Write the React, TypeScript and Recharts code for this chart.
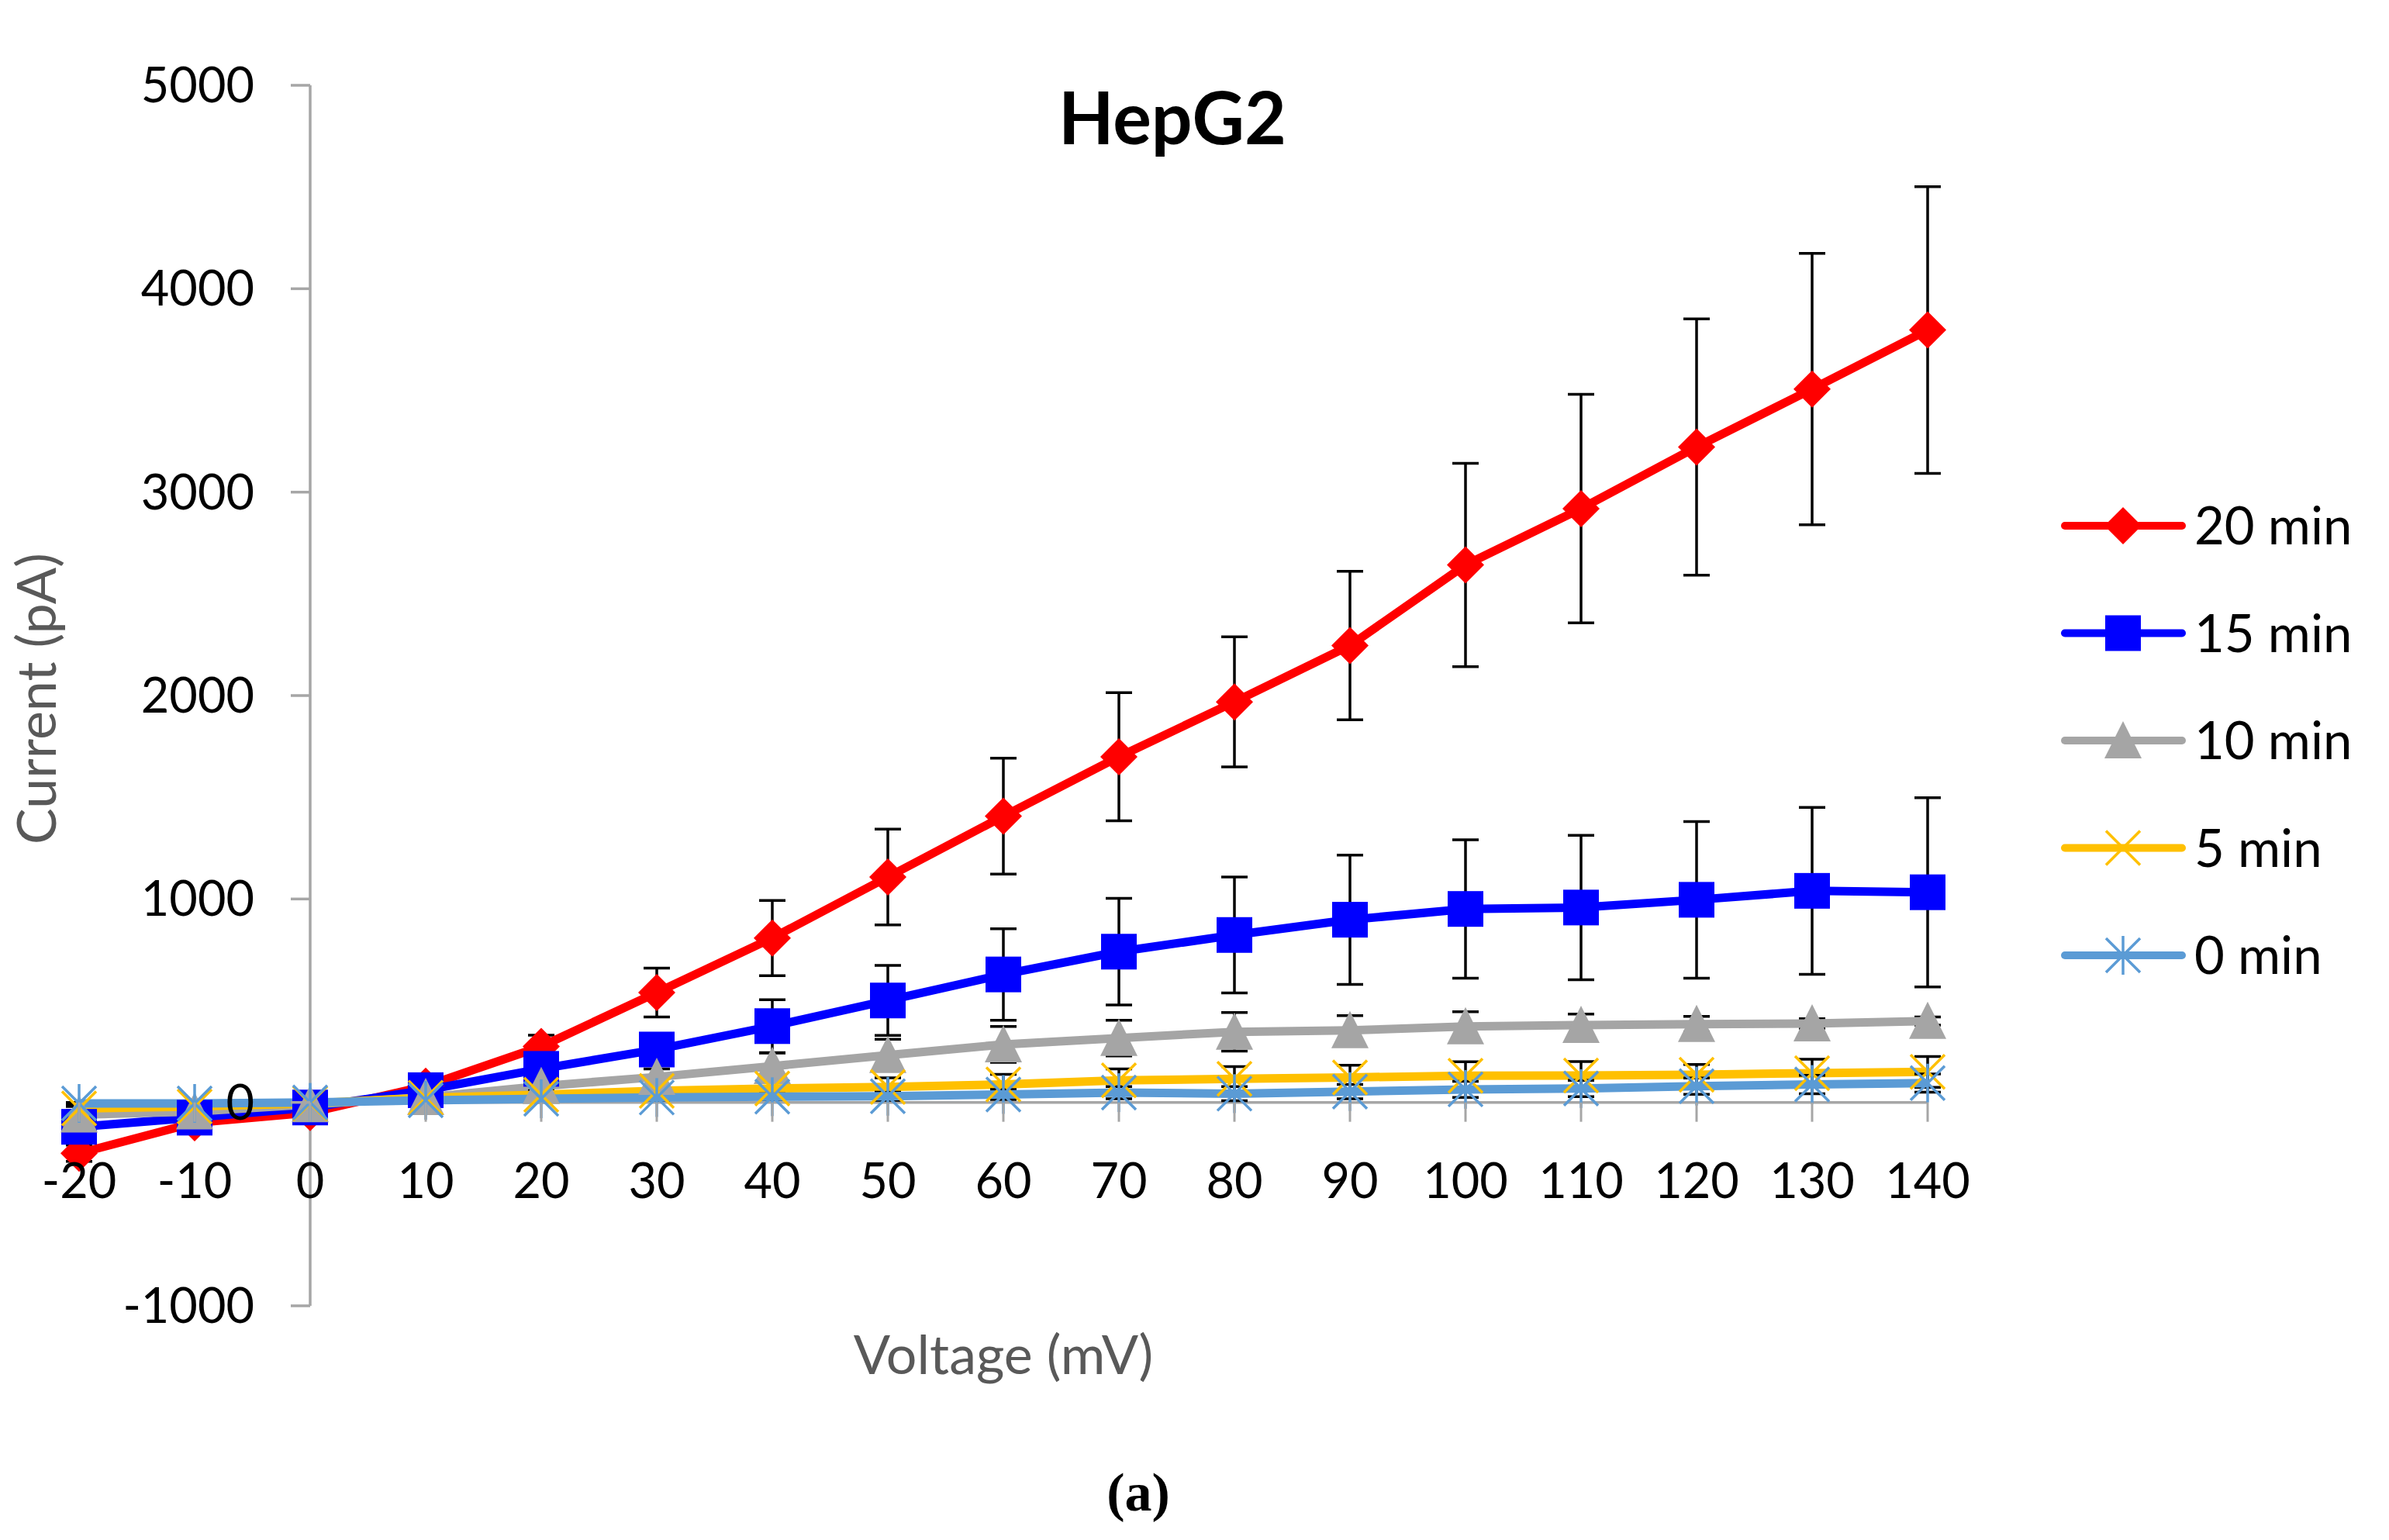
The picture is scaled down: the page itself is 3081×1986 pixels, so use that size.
import React from 'react';
import { LineChart, Line, XAxis, YAxis, ErrorBar, ReferenceLine, Legend } from 'recharts';

// I-V curves, HepG2, current (pA) vs voltage (mV)
const voltages = [-20, -10, 0, 10, 20, 30, 40, 50, 60, 70, 80, 90, 100, 110, 120, 130, 140];
const currentTicks = [-1000, 0, 1000, 2000, 3000, 4000, 5000];

const current20 = [-250, -100, -50, 80, 275, 540, 808, 1108, 1407, 1699, 1969, 2246, 2642, 2919, 3222, 3507, 3797];
const error20 = [40, 20, 10, 15, 55, 120, 185, 235, 285, 315, 320, 365, 500, 562, 630, 667, 705];
const current15 = [-120, -75, -25, 60, 165, 260, 375, 501, 629, 741, 823, 898, 951, 958, 996, 1040, 1033];
const error15 = [30, 20, 10, 20, 40, 70, 130, 172, 225, 262, 285, 318, 340, 355, 385, 410, 465];
const current10 = [-60, -45, -10, 25, 80, 125, 178, 232, 285, 316, 347, 354, 373, 380, 385, 388, 400];
const error10 = [20, 15, 10, 10, 20, 40, 65, 78, 88, 88, 95, 73, 73, 54, 38, 23, 20];
const current5 = [-30, -20, -5, 23, 38, 57, 68, 76, 88, 108, 116, 123, 131, 132, 136, 144, 150];
const error5 = [10, 10, 5, 10, 20, 30, 40, 45, 50, 57, 60, 60, 69, 69, 50, 68, 76];
const current0 = [-5, -5, 0, 10, 18, 24, 28, 30, 39, 48, 43, 53, 64, 68, 80, 88, 95];
const error0 = [5, 5, 5, 10, 10, 15, 15, 20, 25, 30, 35, 35, 40, 40, 40, 45, 45];

const series = [
  { key: 'c20', err: 'e20', name: '20 min', color: '#FF0000', marker: 'diamond' },
  { key: 'c15', err: 'e15', name: '15 min', color: '#0000FF', marker: 'square' },
  { key: 'c10', err: 'e10', name: '10 min', color: '#A5A5A5', marker: 'triangle' },
  { key: 'c5', err: 'e5', name: '5 min', color: '#FFC000', marker: 'x' },
  { key: 'c0', err: 'e0', name: '0 min', color: '#5B9BD5', marker: 'star' },
];

const data = voltages.map((v, i) => ({
  v,
  c20: current20[i], e20: error20[i],
  c15: current15[i], e15: error15[i],
  c10: current10[i], e10: error10[i],
  c5: current5[i], e5: error5[i],
  c0: current0[i], e0: error0[i],
}));

const W = 3081;
const H = 1986;
const PLOT = { left: 102, top: 110, right: 2486, bottom: 1684 };
const Y_MIN = -1000;
const Y_MAX = 5000;
const X_MIN = -20;
const X_MAX = 140;
const ZERO_Y = PLOT.top + ((Y_MAX - 0) / (Y_MAX - Y_MIN)) * (PLOT.bottom - PLOT.top);
const AXIS_X = PLOT.left + ((0 - X_MIN) / (X_MAX - X_MIN)) * (PLOT.right - PLOT.left);

const FONT = 'Lato, "Open Sans", sans-serif';
const AXIS_GRAY = '#A6A6A6';
const TITLE_GRAY = '#595959';
const TICK_SIZE = 63;

function Marker({ cx, cy, kind, color }: any) {
  if (cx == null || cy == null) return null;
  if (kind === 'diamond') {
    return <polygon points={`${cx},${cy - 24} ${cx + 24},${cy} ${cx},${cy + 24} ${cx - 24},${cy}`} fill={color} />;
  }
  if (kind === 'square') {
    return <rect x={cx - 23} y={cy - 23} width={46} height={46} fill={color} />;
  }
  if (kind === 'triangle') {
    return <polygon points={`${cx},${cy - 25} ${cx + 24},${cy + 23} ${cx - 24},${cy + 23}`} fill={color} />;
  }
  const lines = [
    <line key="a" x1={cx - 22} y1={cy - 22} x2={cx + 22} y2={cy + 22} />,
    <line key="b" x1={cx - 22} y1={cy + 22} x2={cx + 22} y2={cy - 22} />,
  ];
  if (kind === 'star') lines.push(<line key="c" x1={cx} y1={cy - 25} x2={cx} y2={cy + 25} />);
  return (
    <g stroke={color} strokeWidth={3.5} fill="none">
      {lines}
    </g>
  );
}

function XTick({ x, payload }: any) {
  return (
    <g>
      <line x1={x} y1={ZERO_Y} x2={x} y2={ZERO_Y + 25} stroke={AXIS_GRAY} strokeWidth={3} />
      <text x={x} y={ZERO_Y + 123} textAnchor="middle" fontFamily={FONT} fontSize={TICK_SIZE} fill="#000">
        {payload.value}
      </text>
    </g>
  );
}

function YTick({ y, payload }: any) {
  return (
    <g>
      <line x1={AXIS_X - 25} y1={y} x2={AXIS_X} y2={y} stroke={AXIS_GRAY} strokeWidth={3.5} />
      <text x={AXIS_X - 72} y={y + 22} textAnchor="end" fontFamily={FONT} fontSize={TICK_SIZE} fill="#000">
        {payload.value}
      </text>
    </g>
  );
}

// drawn in series order (Excel keeps the first series on top of the legend)
function LegendContent() {
  return (
    <svg width={440} height={700}>
      {series.map((s, i) => {
        const cy = 68 + i * 138.5;
        return (
          <g key={s.key}>
            <line x1={23} y1={cy} x2={174} y2={cy} stroke={s.color} strokeWidth={10} strokeLinecap="round" />
            <Marker cx={98} cy={cy} kind={s.marker} color={s.color} />
            <text x={190} y={cy + 24} fontFamily={FONT} fontSize={67} fill="#000">
              {s.name}
            </text>
          </g>
        );
      })}
    </svg>
  );
}

export default function App() {
  return (
    <div style={{ position: 'absolute', left: 0, top: 0, width: W, height: H, background: '#fff' }}>
      <LineChart
        width={W}
        height={H}
        data={data}
        margin={{ top: PLOT.top, right: W - PLOT.right, bottom: H - PLOT.bottom - 1, left: PLOT.left - 1 }}
      >
        <XAxis
          type="number"
          dataKey="v"
          domain={[X_MIN, X_MAX]}
          ticks={voltages}
          interval={0}
          height={1}
          axisLine={false}
          tickLine={false}
          tick={(p: any) => <XTick key={`x-${p.index}`} {...p} />}
        />
        <YAxis
          type="number"
          domain={[Y_MIN, Y_MAX]}
          ticks={currentTicks}
          interval={0}
          width={1}
          axisLine={false}
          tickLine={false}
          tick={(p: any) => <YTick key={`y-${p.index}`} {...p} />}
        />
        <ReferenceLine y={0} stroke={AXIS_GRAY} strokeWidth={3.5} />
        <ReferenceLine x={0} stroke={AXIS_GRAY} strokeWidth={3.5} />
        {series.map((s) => (
          <Line
            key={s.key}
            type="linear"
            dataKey={s.key}
            name={s.name}
            stroke={s.color}
            strokeWidth={11}
            isAnimationActive={false}
            activeDot={false}
            dot={(p: any) => <Marker key={`${s.key}-${p.index}`} cx={p.cx} cy={p.cy} kind={s.marker} color={s.color} />}
          >
            <ErrorBar dataKey={s.err} direction="y" width={17} stroke="#000" strokeWidth={3.5} isAnimationActive={false} />
          </Line>
        ))}
        <Legend
          layout="vertical"
          align="center"
          verticalAlign="middle"
          wrapperStyle={{ left: 2640, top: 610, width: 440, height: 700 }}
          content={<LegendContent />}
        />
      </LineChart>
      <svg width={W} height={H} style={{ position: 'absolute', left: 0, top: 0, pointerEvents: 'none' }}>
        <text x={1512} y={186} textAnchor="middle" fontFamily={FONT} fontWeight="bold" fontSize={93} fill="#000">
          HepG2
        </text>
        <text
          transform="translate(72, 901) rotate(-90)"
          textAnchor="middle"
          fontFamily={FONT}
          fontSize={70}
          fill={TITLE_GRAY}
        >
          Current (pA)
        </text>
        <text x={1294} y={1772} textAnchor="middle" fontFamily={FONT} fontSize={70} fill={TITLE_GRAY}>
          Voltage (mV)
        </text>
        <text x={1468} y={1948} textAnchor="middle" fontFamily='"Liberation Serif", serif' fontWeight="bold" fontSize={70} fill="#000">
          (a)
        </text>
      </svg>
    </div>
  );
}
